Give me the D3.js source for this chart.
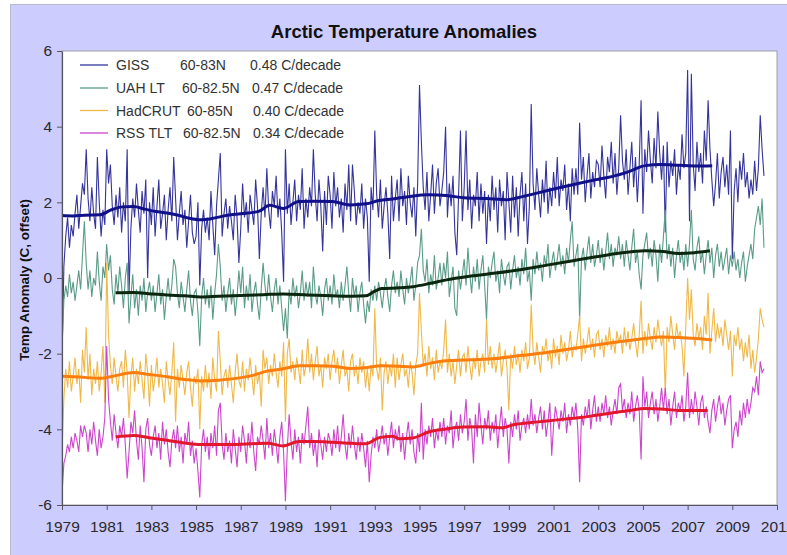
<!DOCTYPE html>
<html>
<head>
<meta charset="utf-8">
<script src="https://cdn.jsdelivr.net/npm/d3@7"></script>
<style>
  html, body { margin: 0; padding: 0; background: #ffffff; }
  svg { display: block; font-family: Arial, "Liberation Sans", sans-serif; }
</style>
</head>
<body>
<svg id="chart" width="787" height="555"></svg>
<script>
// Monthly Arctic anomalies (C, offset per series), January 1979 onwards
const startYear = 1979;

const giss = [
  -2.2, 0.3, 1.1, 1.6, 0.8, 1.4, 1.1, 1.7, 2.2, 1.3, 1.9, 2.5,
  2.2, 3.4, 2.1, 1.5, 2.4, 1.7, 1.3, 3.2, 2.0, 1.1, 1.8, 1.4,
  3.4, 2.5, 3.0, 1.9, 1.4, 2.2, 1.6, 2.4, 1.2, 2.0, 1.5, 3.4,
  -0.4, 1.3, 2.1, 1.6, 2.5, 1.8, 1.2, 2.3, 1.7, 2.6, 0.0, 2.0,
  1.4, 2.4, 1.1, 1.9, 2.6, 1.3, 1.7, 2.2, 1.0, 1.8, 2.4, 1.5,
  3.2, 2.1, 1.0, 1.7, 2.3, 1.4, 1.8, 0.8, 1.5, 2.2, 1.2, 0.9,
  1.1, 2.0, -0.2, 1.3, 1.8, 1.2, 1.6, 1.0, 2.3, 1.4, 0.6, 1.9,
  2.6, 3.3, 1.1, 1.7, 2.1, 1.3, 1.9, 1.5, 1.0, 2.2, 1.6, 0.4,
  1.3, 2.5, 1.6, 2.0, 1.2, 2.2, 1.8, 1.4, 2.6, 1.9, 0.5, 1.7,
  2.4, 1.6, 2.9, 1.8, 1.3, 2.3, 1.9, 2.7, 1.6, 2.1, 1.2, -0.1,
  3.4, 1.7, 2.5, 1.4, 2.0, 2.6, 1.5, 2.2, 1.8, 2.9, 1.3, 2.1,
  1.6, 2.4, 1.9, 3.4, 2.2, 1.5, 2.6, 1.9, 0.7, 2.3, 1.4, 2.7,
  2.2, 1.3, 2.8, 1.9, 2.4, 1.6, 2.1, 1.2, 2.5, 1.8, 3.0, 1.5,
  3.0, 2.3, 1.4, 2.0, 1.7, 2.5, 1.3, 2.1, 1.6, -0.1, 2.4, 1.8,
  3.9, 2.2, 1.6, 2.6, 1.3, 1.9, 2.4, 1.7, 0.5, 2.7, 1.5, 2.1,
  2.6, 1.5, 2.9, 1.9, 2.3, 1.4, 2.7, 2.0, 1.6, 2.4, 1.1, 2.5,
  5.1, 3.6, 2.4, 1.8, 2.8, 1.5, 2.2, 3.0, 1.7, 2.5, 2.9, 1.9,
  2.3, 2.8, 4.0, 1.6, 2.5, 1.9, 2.7, 1.2, 0.6, 2.2, 3.9, 1.5,
  2.4, 3.9, 1.8, 2.6, 1.3, 2.2, 1.9, 2.8, 1.5, 2.5, 1.7, 2.3,
  0.9, 2.2, 1.5, 2.7, 1.8, 2.4, 1.2, 2.6, 1.9, 2.3, 1.0, 2.8,
  2.0, 1.2, 2.7, 1.6, 2.4, 1.1, 2.2, 2.8, 1.5, 2.5, 0.9, 1.9,
  4.6, 2.5, 1.8, 2.9, 2.2, 1.6, 2.6, 2.0, 3.1, 1.7, 2.4, 1.9,
  2.8, 2.1, 3.2, 1.9, 2.6, 2.3, 3.0, 1.8, 2.5, 1.5, 2.9, 2.2,
  2.9, 2.2, 4.1, 2.6, 3.2, 2.0, 2.7, 3.3, 2.1, 2.8, 2.4, 3.1,
  3.0, 2.4, 3.5, 2.7, 2.1, 3.2, 2.8, 3.6, 2.5, 3.3, 2.2, 2.9,
  4.3, 3.1, 2.6, 3.4, 2.2, 2.9, 3.6, 2.4, 3.2, 2.0, 3.0, 4.7,
  1.7, 3.4, 2.8, 3.9, 3.1, 2.5, 3.7, 2.9, 4.4, 3.3, 2.6, 3.5,
  1.2, 3.6, 2.4, 3.1, 2.7, 3.4, 2.2, 3.0, 2.6, 3.8, 2.9, 3.3,
  5.5, 1.5, 5.4, 3.0, 2.3, 3.6, 2.8, 3.3, 2.5, 3.9, 3.1, 4.7,
  3.4, 2.6, 1.9, 2.5, 3.3, 2.1, 2.8, 3.2, 2.4, 3.0, 2.2, 3.9,
  0.5, 2.3, 2.9, 2.0, 3.1, 2.6, 3.3, 2.4, 2.8, 2.1, 2.6, 2.2,
  3.1, 2.3, 2.9, 4.3, 3.4, 2.7
];

const uah = [
  -1.8, -0.6, -0.2, -0.5, 0.1, -0.4, -0.1, -0.6, -0.2, 0.2, -0.3, 0.6,
  1.5, 0.4, -0.3, 0.2, -0.5, 0.0, -0.2, 0.7, -0.1, -0.6, 0.3, 0.0,
  0.9, 0.2, 0.6, -0.3, -0.7, 0.1, -0.4, 0.3, -0.2, -0.8, 0.0, 0.4,
  -1.2, -0.5, 0.1, -0.8, -0.3, -1.0, -0.2, -0.6, 0.0, -0.9, -0.4, -0.1,
  -0.6, -0.2, -0.9, -0.4, 0.1, -0.7, -0.3, -1.1, -0.5, 0.0, -0.6, -0.2,
  0.5, 0.3, -0.4, -0.8, -0.1, -0.5, -0.9, -0.3, 0.2, -0.6, -1.0, -0.4,
  -0.3, -0.9, -1.8, -0.5, 0.0, -0.7, -0.3, -0.8, -0.2, -1.1, -0.4, 0.1,
  0.9, 0.3, -0.6, -0.2, -0.9, -0.4, 0.0, -0.7, -0.3, -1.0, -0.5, 0.2,
  -0.4, 0.3, -0.8, -0.2, -0.6, 0.1, -0.9, -0.4, -0.1, -0.7, -1.1, -0.3,
  0.4, -0.2, -0.6, 0.1, -0.5, -0.9, -0.3, 0.0, -0.7, -0.2, -0.8, -1.4,
  -0.8, -1.6, -0.3, -0.7, 0.0, -0.5, -0.2, -0.8, -0.4, 0.2, -0.6, -0.1,
  -0.5, -0.1, -0.8, 0.3, -0.4, -0.7, -0.2, -0.5, -1.0, -0.3, 0.0, -0.6,
  -0.2, -0.7, 0.1, -0.5, -0.3, -0.8, -0.1, -0.6, -0.2, 0.3, -0.4, -0.9,
  0.0, -0.5, -0.2, -0.9, -0.4, -0.1, -0.7, -1.2, -0.6, -0.9, -0.3, -0.6,
  -0.2, -0.6, -0.1, -0.4, -0.8, -0.3, 0.0, -0.5, -0.9, -0.2, 0.2, -0.4,
  -0.1, -0.5, 0.2, -0.3, -0.7, 0.0, -0.4, -0.1, 0.3, -0.6, -0.2, 0.4,
  0.6, 1.3, 0.2, -0.1, 0.5, -0.4, 0.1, -0.2, 0.6, -0.3, 0.0, 0.4,
  -0.2, 0.4, 0.0, 0.7, -0.5, -0.1, 0.3, -0.8, -1.0, 0.2, -0.3, 0.1,
  0.5, -0.2, 0.8, 0.1, -0.4, 0.3, -0.1, 0.5, -0.3, 0.2, 0.6, -0.2,
  -1.1, 0.3, 0.0, 0.4, 0.7, -0.1, 0.2, -0.4, 0.5, 0.1, -0.2, 0.3,
  0.4, -0.3, 0.2, 0.6, 0.0, 0.3, -0.2, 0.5, 0.1, 0.8, -0.1, 0.2,
  -0.6, 0.5, 0.1, 0.7, 0.2, 0.4, -0.1, 0.6, 0.3, 0.9, 0.0, 0.4,
  0.7, 0.2, 0.5, 0.9, 0.3, 0.6, 0.1, 0.8, 0.4, 1.0, 1.5, 0.3,
  0.6, 0.9, -1.1, 0.5, 0.8, 0.2, 0.7, 1.1, 0.4, 0.9, 0.3, 0.6,
  1.0, 0.4, 0.8, 0.2, 0.7, 1.2, 0.5, 0.9, 0.3, 0.8, 0.6, 1.1,
  0.5, 0.9, 0.3, 1.0, 0.6, 0.2, 0.8, 1.3, 0.4, 0.7, 0.1, -0.3,
  0.6, 0.9, 1.2, 0.5, 0.8, 0.3, 1.0, 0.6, -0.1, 0.9, 0.4, 1.1,
  1.8, 0.5, 0.9, 0.3, 0.8, 0.0, 0.6, 1.0, 0.4, 0.7, 0.2, 0.9,
  0.3, 0.9, 1.8, 0.5, 0.2, 0.8, 1.1, 0.4, 0.7, 0.1, 0.6, 1.0,
  0.4, 0.8, 0.0, 0.6, 0.9, 0.3, 0.7, 0.2, 0.5, 0.8, 0.1, 0.6,
  0.3, 0.7, 0.2, 0.5, 0.0, 0.4, 0.7, -0.1, 0.3, 0.6, 0.9, 0.5,
  1.3, 1.6, 1.9, 1.4, 2.1, 0.8
];

const hadcrut = [
  -4.6, -3.2, -2.4, -2.9, -2.2, -3.0, -2.6, -2.1, -2.8, -2.4, -3.3, -1.9,
  -2.5, -1.3, -2.7, -2.0, -3.1, -2.4, -2.8, -2.2, -3.0, -2.5, -1.8, -3.3,
  0.4, -1.5, -2.3, -2.8, -2.1, -2.6, -3.0, -2.4, -2.2, -2.9, -1.9, -2.5,
  -3.7, -2.6, -2.1, -3.0, -2.4, -2.8, -2.2, -2.7, -3.2, -2.0, -2.5, -3.4,
  -2.3, -3.0, -2.6, -2.1, -2.9, -2.4, -2.8, -3.3, -2.2, -2.7, -3.1, -2.5,
  -1.7, -3.8, -2.4, -2.9, -2.3, -2.7, -3.1, -2.5, -2.2, -2.9, -3.4, -2.6,
  -2.8, -2.4, -4.0, -2.6, -3.0, -2.3, -2.9, -2.5, -3.2, -2.1, -2.7, -3.0,
  -1.4, -2.2, -3.1, -2.6, -2.4, -2.9, -2.3, -2.8, -3.3, -2.5, -2.0, -2.7,
  -2.9, -2.2, -3.0, -2.4, -2.7, -2.1, -2.6, -3.1, -2.3, -2.8, -2.5, -3.4,
  -1.9, -2.4, -2.1, -2.8, -2.3, -2.6, -2.0, -2.5, -2.9, -2.2, -2.6, -1.7,
  -3.8, -2.0, -1.6, -2.5, -2.2, -2.7, -2.1, -2.4, -2.8, -1.9, -2.6, -2.3,
  -1.6, -2.5, -2.0, -2.7, -2.2, -1.8, -2.6, -2.3, -2.9, -2.1, -2.4, -2.0,
  -2.7, -2.2, -1.9, -2.5, -2.1, -2.8, -2.3, -1.9, -2.6, -2.4, -3.0, -2.2,
  -2.0, -2.6, -2.3, -2.8, -2.1, -2.5, -2.2, -2.9, -2.4, -3.0, -2.3, -2.6,
  -0.8, -2.4, -2.7, -2.1, -3.5, -2.5, -2.2, -2.8, -2.3, -2.6, -2.0, -2.9,
  -2.1, -2.7, -2.3, -2.0, -2.6, -2.4, -2.9, -2.2, -2.5, -3.1, -2.3, -2.0,
  -0.4, -1.4, -2.3, -2.0, -2.6, -1.8, -2.4, -2.1, -2.7, -1.9, -2.5, -2.2,
  -2.4, -1.9, -1.1, -2.5, -2.0, -2.6, -2.2, -2.8, -2.3, -1.9, -2.6, -2.1,
  -2.0, -2.5, -1.8, -2.3, -2.7, -2.1, -2.4, -1.9, -2.6, -2.2, -2.0, -2.5,
  -1.1, -2.3, -1.8, -2.4, -2.0, -2.5, -2.1, -1.7, -2.6, -2.2, -1.9, -2.4,
  -3.5, -2.0, -2.4, -1.8, -2.3, -2.0, -2.5, -1.9, -2.2, -1.7, -2.4, -2.1,
  -0.7, -1.9, -2.3, -1.7, -2.1, -2.5, -1.8, -2.0, -1.6, -2.2, -1.9, -2.4,
  -1.6, -2.1, -1.8, -2.3, -1.5, -2.0, -1.7, -2.2, -1.9, -1.4, -2.1, -1.8,
  -1.9, -1.5, -1.0, -2.2, -1.6, -2.0, -1.7, -1.3, -1.9, -1.6, -2.1, -1.5,
  -1.4, -1.9, -1.6, -2.1, -1.5, -1.8, -1.3, -1.9, -1.6, -2.0, -1.4, -1.7,
  -1.5, -2.0, -1.3, -1.8, -1.4, -1.9, -1.6, -1.2, -1.7, -2.1, -1.5, -0.6,
  -2.0, -1.4, -1.8, -1.2, -1.6, -1.9, -1.3, -1.7, -1.1, -1.5, -1.8, -1.4,
  -3.1, -1.3, -1.7, -1.0, -1.5, -1.9, -1.2, -1.6, -1.4, -1.8, -2.6, -1.3,
  0.0, -1.1, -0.3, -1.5, -1.8, -1.2, -1.6, -1.3, -1.9, -1.0, -1.5, -0.4,
  -2.0, -1.4, -0.8, -1.7, -1.2, -1.6, -1.3, -1.8, -1.1, -1.5, -1.9, -1.4,
  -2.6, -1.5, -1.8, -1.3, -1.9, -1.6, -2.2, -1.7, -2.1, -1.5, -2.4, -1.9,
  -2.5, -2.1, -1.6, -0.8, -1.1, -1.3
];

const rss = [
  -5.7, -4.9, -4.7, -4.4, -4.6, -4.2, -4.5, -4.1, -4.3, -4.6, -3.9, -4.2,
  -3.9, -4.1, -4.6, -4.0, -4.4, -3.8, -4.3, -4.7, -4.0, -4.5, -4.2, -3.7,
  -1.8, -3.2, -3.8, -4.3, -3.6, -4.1, -4.5, -3.9, -4.2, -3.7, -4.4, -5.3,
  -4.6, -3.8, -4.1, -3.5, -4.3, -4.8, -3.9, -4.5, -5.4, -4.0, -3.7, -4.4,
  -4.7, -4.2, -3.9, -4.5, -4.1, -4.8, -3.8, -4.4, -4.0, -4.6, -5.0, -4.3,
  -4.0, -4.5, -3.9, -4.6, -4.2, -4.9, -4.1, -4.4, -3.8, -4.7, -4.3, -4.9,
  -4.5, -5.1, -5.8, -4.4, -4.0, -4.6, -4.2, -4.8, -4.1, -4.5, -3.9, -4.7,
  -3.5, -3.3, -4.4, -4.8, -4.1, -4.6, -4.3, -4.9, -4.0, -4.5, -5.0, -4.2,
  -4.6, -3.9, -4.3, -4.9, -4.1, -4.5, -3.8, -4.6, -5.1, -4.2, -4.4, -3.9,
  -4.3, -4.8, -3.7, -4.5, -4.1, -4.7, -4.0, -4.4, -4.9, -4.2, -3.8, -4.6,
  -5.9, -4.5, -3.6, -4.3, -4.8, -4.0, -4.6, -4.2, -4.9, -4.1, -4.4, -3.9,
  -3.4, -4.5, -4.1, -4.7, -4.3, -5.0, -4.0, -4.4, -4.8, -4.2, -4.6, -4.1,
  -4.3, -4.7, -4.0, -4.5, -3.9, -4.6, -4.2, -3.6, -4.4, -4.8, -4.1, -4.5,
  -3.9, -4.4, -4.8, -4.2, -4.6, -4.1, -4.5, -5.0, -4.3, -5.4, -4.7, -4.2,
  -4.5, -4.0, -4.6, -4.3, -3.9, -4.4, -4.1, -4.7, -4.2, -3.8, -4.5, -4.0,
  -4.3, -3.9, -4.6, -4.1, -4.8, -4.2, -3.8, -4.4, -4.0, -4.6, -4.9, -4.1,
  -4.6, -3.3, -4.8, -4.0, -4.4, -3.9, -4.2, -3.7, -4.5, -4.0, -4.3, -3.8,
  -4.2, -3.7, -4.4, -3.9, -4.1, -3.5, -4.5, -4.0, -3.8, -4.3, -3.6, -4.1,
  -3.8, -3.2, -4.3, -3.7, -4.0, -4.9, -3.6, -4.2, -3.3, -3.9, -4.4, -3.7,
  -4.0, -3.5, -4.3, -3.8, -4.1, -3.6, -4.5, -3.9, -3.4, -4.2, -3.7, -4.0,
  -4.9, -3.8, -4.2, -3.6, -4.0, -3.5, -4.3, -3.9, -3.7, -4.1, -3.6, -4.0,
  -3.2, -3.9, -3.6, -4.1, -3.7, -3.4, -4.0, -3.5, -4.2, -3.8, -3.3, -4.7,
  -3.9, -3.4, -3.7, -4.0, -3.5, -3.8, -3.3, -4.1, -3.6, -3.9, -3.4, -3.7,
  -3.3, -4.0, -5.4, -3.6, -3.9, -3.4, -3.7, -3.2, -4.0, -3.5, -3.1, -3.8,
  -3.4, -3.8, -3.3, -3.6, -3.1, -3.7, -3.4, -3.9, -3.5, -3.2, -3.6, -2.9,
  -2.8, -3.5, -3.2, -3.7, -3.3, -3.6, -3.0, -3.8, -3.4, -3.1, -3.5, -4.8,
  -2.6, -3.4, -3.0, -3.7, -3.3, -3.0, -3.6, -3.2, -3.8, -3.4, -2.9, -3.5,
  -2.9, -3.6, -3.2, -3.9, -3.4, -3.0, -3.7, -3.3, -3.5, -3.1, -3.8, -3.4,
  -2.5, -3.7, -3.2, -3.6, -3.0, -3.4, -3.9, -3.3, -3.1, -3.7, -3.4, -3.8,
  -4.1, -3.5, -3.2, -3.8, -3.4, -3.1, -3.6, -3.3, -3.9, -3.5, -3.2, -3.1,
  -4.5, -4.0, -3.8, -4.2, -3.5, -3.9, -3.3, -3.7, -3.2, -3.6, -3.3, -2.9,
  -3.0, -2.6, -3.1, -2.2, -2.5, -2.4
];

// Running-mean curves: [decimal year, value]
const gissSmooth = [
  [1979.0, 1.65], [1979.5, 1.64], [1980.0, 1.66], [1980.7, 1.67], [1981.2, 1.80], [1981.7, 1.88],
  [1982.2, 1.89], [1982.7, 1.82], [1983.2, 1.76], [1983.7, 1.72], [1984.2, 1.66], [1984.7, 1.58],
  [1985.2, 1.54], [1985.7, 1.57], [1986.4, 1.66], [1987.0, 1.70], [1987.8, 1.76], [1988.3, 1.92],
  [1988.9, 1.84], [1989.6, 2.02], [1990.3, 2.03], [1991.1, 2.02], [1991.9, 1.93], [1992.6, 1.96],
  [1993.2, 2.05], [1993.8, 2.09], [1994.5, 2.15], [1995.4, 2.20], [1996.2, 2.18], [1997.0, 2.12],
  [1998.0, 2.10], [1998.9, 2.07], [1999.6, 2.15], [2000.3, 2.25], [2001.2, 2.38], [2002.1, 2.50],
  [2002.9, 2.60], [2003.6, 2.68], [2004.4, 2.82], [2005.1, 2.97], [2005.8, 3.00], [2006.6, 2.98],
  [2007.4, 2.96], [2008.1, 2.97]
];

const uahSmooth = [
  [1981.4, -0.39], [1982.2, -0.38], [1983.0, -0.42], [1983.7, -0.45], [1984.5, -0.47], [1985.2, -0.50],
  [1986.0, -0.48], [1987.0, -0.46], [1988.0, -0.44], [1988.9, -0.42], [1990.0, -0.45], [1991.1, -0.47],
  [1992.0, -0.48], [1992.6, -0.47], [1993.0, -0.35], [1993.3, -0.28], [1994.1, -0.26], [1994.7, -0.23],
  [1995.5, -0.14], [1996.2, -0.05], [1997.3, 0.05], [1998.4, 0.13], [1999.5, 0.22], [2000.7, 0.34],
  [2001.8, 0.45], [2002.9, 0.56], [2004.0, 0.66], [2005.1, 0.72], [2005.9, 0.70], [2006.6, 0.65],
  [2007.3, 0.67], [2008.0, 0.72]
];

const hadcrutSmooth = [
  [1979.0, -2.60], [1979.8, -2.62], [1980.7, -2.65], [1981.4, -2.58], [1982.2, -2.50], [1982.9, -2.55],
  [1983.7, -2.61], [1984.5, -2.68], [1985.2, -2.72], [1986.0, -2.70], [1986.7, -2.66], [1987.5, -2.58],
  [1988.2, -2.46], [1988.9, -2.40], [1989.6, -2.32], [1990.4, -2.32], [1991.1, -2.33], [1991.9, -2.39],
  [1992.6, -2.37], [1993.3, -2.32], [1994.0, -2.33], [1994.7, -2.35], [1995.5, -2.25], [1996.2, -2.19],
  [1997.3, -2.16], [1998.4, -2.13], [1999.5, -2.05], [2000.7, -1.97], [2001.8, -1.87], [2002.9, -1.77],
  [2004.0, -1.68], [2005.1, -1.60], [2005.8, -1.56], [2006.6, -1.57], [2007.4, -1.60], [2008.1, -1.64]
];

const rssSmooth = [
  [1981.4, -4.20], [1982.2, -4.16], [1982.9, -4.22], [1983.7, -4.29], [1984.5, -4.36], [1985.2, -4.40],
  [1986.0, -4.40], [1986.8, -4.40], [1987.5, -4.38], [1988.2, -4.37], [1988.9, -4.44], [1989.6, -4.32],
  [1990.3, -4.32], [1991.1, -4.34], [1992.0, -4.37], [1992.6, -4.38], [1993.2, -4.22], [1993.8, -4.18],
  [1994.1, -4.25], [1994.7, -4.23], [1995.4, -4.07], [1996.2, -3.99], [1996.9, -3.94], [1998.0, -3.93],
  [1998.7, -3.96], [1999.2, -3.88], [2000.0, -3.82], [2000.7, -3.78], [2001.5, -3.73], [2002.2, -3.69],
  [2002.9, -3.63], [2003.6, -3.57], [2004.4, -3.50], [2005.1, -3.45], [2005.8, -3.46], [2006.6, -3.50],
  [2007.3, -3.50], [2007.9, -3.50]
];

// Legend text
const legendNames = ["GISS", "UAH LT", "HadCRUT", "RSS TLT"];
const legendBands = ["60-83N", "60-82.5N", "60-85N", "60-82.5N"];
const legendTrends = ["0.48 C/decade", "0.47 C/decade", "0.40 C/decade", "0.34 C/decade"];

const yTicks = [-6, -4, -2, 0, 2, 4, 6];
const xTicks = d3.range(1979, 2012, 2);

// Drawing
const svg = d3.select("#chart");

// Chart frame
svg.append("rect")
  .attr("x", 10.5).attr("y", 4.5).attr("width", 790).attr("height", 560)
  .attr("fill", "#ccccff").attr("stroke", "#b8b8d0");

const plot = { left: 62, right: 777, top: 51, bottom: 505 };

const x = d3.scaleLinear().domain([1979, 2011]).range([plot.left, plot.right]);
const y = d3.scaleLinear().domain([-6, 6]).range([plot.bottom, plot.top]);

svg.append("rect")
  .attr("x", plot.left).attr("y", plot.top)
  .attr("width", plot.right - plot.left).attr("height", plot.bottom - plot.top)
  .attr("fill", "#ffffff").attr("stroke", "#a0a0a8").attr("stroke-width", 1);

svg.append("clipPath").attr("id", "plotClip")
  .append("rect")
  .attr("x", plot.left).attr("y", plot.top)
  .attr("width", plot.right - plot.left).attr("height", plot.bottom - plot.top);

const series = [
  { values: giss, color: "#34349c", smooth: gissSmooth, smoothColor: "#10108a" },
  { values: uah, color: "#5a9c88", smooth: uahSmooth, smoothColor: "#0b260f" },
  { values: hadcrut, color: "#f0b848", smooth: hadcrutSmooth, smoothColor: "#fb7d0c" },
  { values: rss, color: "#cc46cc", smooth: rssSmooth, smoothColor: "#e2162c" }
];

const monthly = d3.line()
  .x((d, i) => x(startYear + i / 12))
  .y(d => y(d));

const smoothLine = d3.line()
  .x(d => x(d[0]))
  .y(d => y(d[1]))
  .curve(d3.curveMonotoneX);

const dataLayer = svg.append("g").attr("clip-path", "url(#plotClip)");

series.forEach(s => {
  dataLayer.append("path")
    .datum(s.values)
    .attr("fill", "none")
    .attr("stroke", s.color)
    .attr("stroke-width", 1.1)
    .attr("stroke-linejoin", "miter")
    .attr("d", monthly);
});

series.forEach(s => {
  dataLayer.append("path")
    .datum(s.smooth)
    .attr("fill", "none")
    .attr("stroke", s.smoothColor)
    .attr("stroke-width", 3)
    .attr("stroke-linejoin", "round")
    .attr("d", smoothLine);
});

// Axes
const yAxis = svg.append("g")
  .attr("transform", `translate(${plot.left},0)`)
  .call(d3.axisLeft(y).tickValues(yTicks).tickSize(5).tickSizeOuter(0).tickPadding(5)
    .tickFormat(d => String(d)));

const xAxis = svg.append("g")
  .attr("transform", `translate(0,${plot.bottom})`)
  .call(d3.axisBottom(x).tickValues(xTicks).tickSize(5).tickSizeOuter(0).tickPadding(11)
    .tickFormat(d => String(d)));

[yAxis, xAxis].forEach(a => {
  a.select(".domain").attr("stroke", "#55555f").attr("stroke-width", 1.2);
  a.selectAll(".tick line").attr("stroke", "#55555f");
  a.selectAll(".tick text")
    .attr("fill", "#2a2a2a")
    .style("font-size", "15.5px")
    .style("font-family", "Arial, 'Liberation Sans', sans-serif");
});

// Title
svg.append("text")
  .attr("x", 404).attr("y", 38)
  .attr("text-anchor", "middle")
  .style("font-size", "18.5px").style("font-weight", "bold")
  .attr("fill", "#111")
  .text("Arctic Temperature Anomalies");

// Y axis title
svg.append("text")
  .attr("transform", "translate(24,280) rotate(-90)")
  .attr("text-anchor", "middle")
  .attr("dominant-baseline", "central")
  .style("font-size", "13.5px").style("font-weight", "bold")
  .attr("fill", "#111")
  .text("Temp Anomaly (C, offset)");

// Legend
const legendRows = [65, 88, 110.5, 133];
const bandX = [180, 182, 187, 183];
const trendX = [250, 252, 253, 253];
const legend = svg.append("g");
legendNames.forEach((name, i) => {
  const yy = legendRows[i];
  legend.append("line")
    .attr("x1", 80).attr("x2", 108).attr("y1", yy).attr("y2", yy)
    .attr("stroke", series[i].color).attr("stroke-width", 1.3);
  const t = legend.append("text")
    .attr("y", yy + 5)
    .style("font-size", "14px")
    .attr("fill", "#333");
  t.append("tspan").attr("x", 116).text(name);
  t.append("tspan").attr("x", bandX[i]).text(legendBands[i]);
  t.append("tspan").attr("x", trendX[i]).text(legendTrends[i]);
});
</script>
</body>
</html>
